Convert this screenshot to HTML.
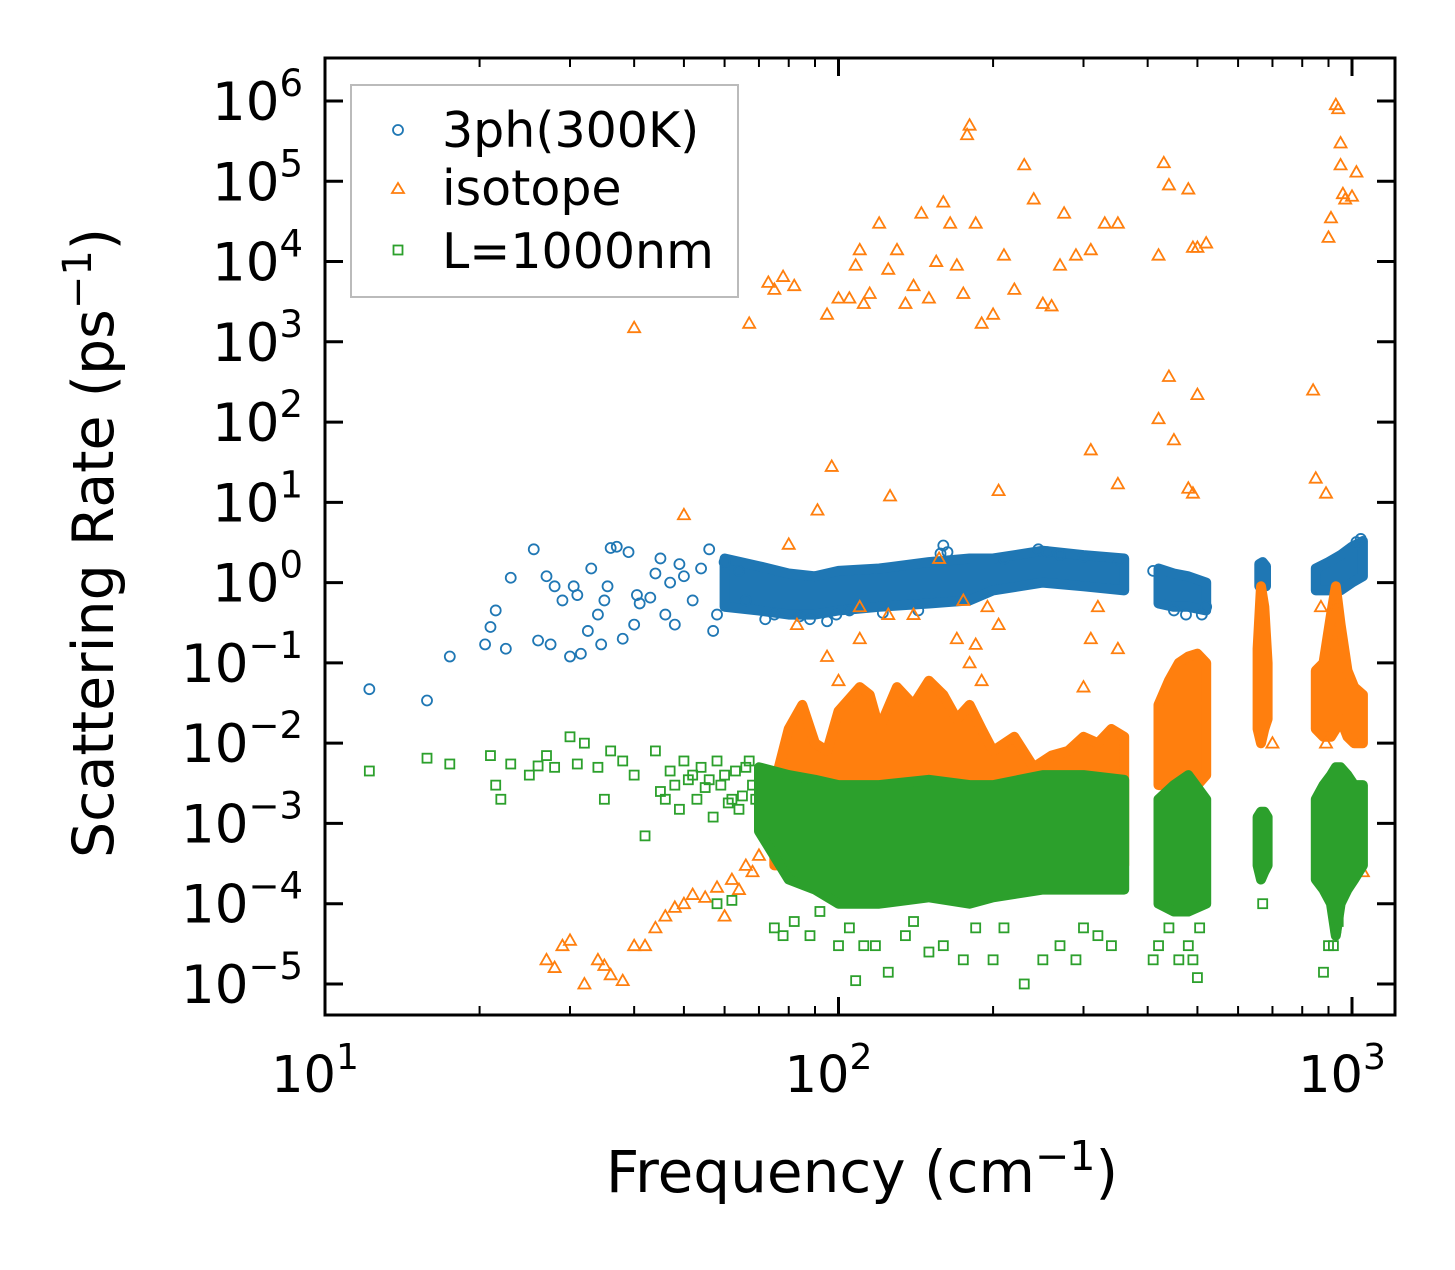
<!DOCTYPE html>
<html><head><meta charset="utf-8"><style>
html,body{margin:0;padding:0;background:#fff;}
svg text{font-family:"DejaVu Sans","Liberation Sans",sans-serif;fill:#000;}
</style></head><body>
<svg id="chart" width="1455" height="1265" viewBox="0 0 1455 1265" xmlns="http://www.w3.org/2000/svg">
<rect x="0" y="0" width="1455" height="1265" fill="#fff"/>
<g id="plot"></g>
<g id="axes"></g>
<text x="862" y="1192" font-size="58" text-anchor="middle">Frequency (cm<tspan dy="-22" font-size="41">−1</tspan><tspan dy="22">)</tspan></text>
<text transform="translate(113,543) rotate(-90)" font-size="57" text-anchor="middle">Scattering Rate (ps<tspan dy="-22" font-size="40">−1</tspan><tspan dy="22">)</tspan></text>
<g>
<rect x="351" y="85" width="387" height="212" fill="#fff" fill-opacity="0.8" stroke="#bbb" stroke-width="2"/>
<circle cx="398" cy="130" r="5" fill="none" stroke="#1f77b4" stroke-width="1.8"/>
<text x="442" y="147" font-size="49">3ph(300K)</text>
<path d="M398,183 L404,193 L392,193 Z" fill="none" stroke="#ff7f0e" stroke-width="1.8"/>
<text x="442" y="205" font-size="49">isotope</text>
<rect x="393.5" y="245.5" width="9" height="9" fill="none" stroke="#2ca02c" stroke-width="1.8"/>
<text x="442" y="268" font-size="49">L=1000nm</text>
</g>
</svg>
<script>
// axis ticks
const xTickValues = [10, 100, 1000];
const xTickLabels = ["1", "2", "3"];
const yTickValues = [1e6,1e5,1e4,1e3,1e2,1e1,1e0,1e-1,1e-2,1e-3,1e-4,1e-5];
const yTickLabels = ["6","5","4","3","2","1","0","−1","−2","−3","−4","−5"];

// dense band envelopes (frequency, lower rate, upper rate)
const bandThreephFreq = [60,70,80,90,100,120,150,180,200,250,300,360];
const bandThreephLow  = [0.5,0.45,0.4,0.4,0.45,0.5,0.55,0.6,0.8,1.0,0.9,0.8];
const bandThreephHigh = [2,1.6,1.3,1.2,1.4,1.5,1.8,2.0,2.0,2.5,2.2,2.0];
const bandThreeph2Freq = [420,450,480,520];
const bandThreeph2Low  = [0.55,0.5,0.5,0.45];
const bandThreeph2High = [1.5,1.3,1.2,1.0];
const bandThreeph3Freq = [660,670,680];
const bandThreeph3Low  = [0.9,0.9,0.9];
const bandThreeph3High = [1.7,1.8,1.6];
const bandThreeph4Freq = [850,900,950,1000,1050];
const bandThreeph4Low  = [0.8,0.8,0.8,1.0,1.2];
const bandThreeph4High = [1.5,1.8,2.2,2.8,3.3];

const bandIsoFreq = [75,80,85,90,95,100,110,115,120,130,140,150,160,170,180,190,200,220,240,260,280,300,320,340,360];
const bandIsoLow  = [3e-4,3e-4,3e-4,3e-4,3e-4,3e-4,3e-4,3e-4,3e-4,3e-4,3e-4,3e-4,3e-4,3e-4,3e-4,3e-4,3e-4,3e-4,3e-4,3e-4,3e-4,3e-4,3e-4,3e-4,3e-4];
const bandIsoHigh = [0.003,0.015,0.03,0.01,0.008,0.025,0.05,0.04,0.015,0.05,0.03,0.06,0.04,0.02,0.03,0.015,0.008,0.012,0.005,0.007,0.008,0.012,0.01,0.015,0.012];
const bandIso2Freq = [420,440,460,480,500,520];
const bandIso2Low  = [0.003,0.003,0.003,0.003,0.003,0.004];
const bandIso2High = [0.03,0.06,0.1,0.12,0.13,0.1];
const bandIso3Freq = [655,665,675,685];
const bandIso3Low  = [0.015,0.01,0.015,0.02];
const bandIso3High = [0.15,0.9,0.5,0.1];
const bandIso4Freq = [850,880,910,930,950,980,1010,1050];
const bandIso4Low  = [0.015,0.012,0.012,0.015,0.02,0.012,0.01,0.01];
const bandIso4High = [0.08,0.1,0.4,0.9,0.3,0.08,0.05,0.04];

const bandBdFreq = [70,80,90,100,120,150,180,200,250,300,360];
const bandBdLow  = [8e-4,2e-4,1.5e-4,1e-4,1e-4,1.2e-4,1e-4,1.2e-4,1.5e-4,1.5e-4,1.5e-4];
const bandBdHigh = [5e-3,4e-3,3.5e-3,3e-3,3e-3,3.5e-3,3e-3,3e-3,4e-3,4e-3,3.5e-3];
const bandBd2Freq = [420,450,480,520];
const bandBd2Low  = [1e-4,8e-5,8e-5,1e-4];
const bandBd2High = [2e-3,3e-3,4e-3,2e-3];
const bandBd3Freq = [655,665,675,685];
const bandBd3Low  = [3e-4,2e-4,2.5e-4,3e-4];
const bandBd3High = [1.2e-3,1.4e-3,1.4e-3,1.2e-3];
const bandBd4Freq = [850,880,910,930,950,980,1010,1050];
const bandBd4Low  = [2e-4,1.5e-4,1e-4,4e-5,1e-4,1.5e-4,2e-4,3e-4];
const bandBd4High = [2e-3,3e-3,4e-3,5e-3,5e-3,4e-3,3e-3,3e-3];

// scattered points
const threephFreq = [12.2,15.8,17.5,20.5,21,21.5,22.5,23,25.5,26,27,27.5,28,29,30,30.5,31,31.5,32.5,33,34,34.5,35,35.5,36,37,38,39,40,40.5,41,43,44,45,46,47,48,49,50,52,54,56,57,58,60,64,66,72,75,84,88,95,99,105,122,143,158,160,163,210,245,255,270,300,350,410,450,475,510,520,1020,1040];
const threephRate = [0.047,0.034,0.12,0.17,0.28,0.45,0.15,1.15,2.6,0.19,1.2,0.17,0.9,0.6,0.12,0.9,0.7,0.13,0.25,1.5,0.4,0.17,0.6,0.9,2.7,2.8,0.2,2.4,0.3,0.7,0.55,0.65,1.3,2.0,0.4,1.0,0.3,1.7,1.2,0.6,1.5,2.6,0.25,0.4,1.8,1.4,0.6,0.35,0.4,0.38,0.35,0.33,0.4,0.45,0.42,0.45,2.3,2.9,2.4,2.0,2.6,2.4,2.2,2.1,1.9,1.4,0.45,0.4,0.4,0.5,3.2,3.5];

const isoFreq = [40,67,73,75,78,82,95,100,105,108,110,112,115,120,125,130,135,140,145,150,155,160,165,170,175,178,180,185,190,200,210,220,230,240,250,260,270,275,290,310,330,350,420,430,440,480,490,500,520,900,910,930,940,950,960,970,1000,1020,950,
97,80,91,126,157,205,310,350,420,440,450,480,490,500,840,850,890,50,
83,95,100,110,125,170,180,185,190,195,205,300,310,320,350,110,140,175,870,930,700,890,
27,28,29,30,32,34,35,36,38,40,42,44,46,48,50,52,55,58,62,66,70,75,60,64,68,1050];
const isoRate = [1500,1700,5500,4500,6500,5000,2200,3500,3500,9000,14000,3000,4000,30000,8000,14000,3000,5000,40000,3500,10000,55000,30000,9000,4000,380000,500000,30000,1700,2200,12000,4500,160000,60000,3000,2800,9000,40000,12000,14000,30000,30000,12000,170000,90000,80000,15000,15000,17000,20000,35000,900000,800000,160000,70000,60000,65000,130000,300000,
28,3,8,12,2,14,45,17,110,370,60,15,13,220,250,20,13,7,
0.3,0.12,0.06,0.2,0.4,0.2,0.1,0.17,0.06,0.5,0.3,0.05,0.2,0.5,0.15,0.5,0.4,0.6,0.5,0.5,0.01,0.01,
2e-5,1.6e-5,3e-5,3.5e-5,1e-5,2e-5,1.7e-5,1.3e-5,1.1e-5,3e-5,3e-5,5e-5,7e-5,9e-5,1e-4,1.3e-4,1.2e-4,1.6e-4,2e-4,3e-4,4e-4,6e-4,7e-5,1.5e-4,2.5e-4,2.5e-4];

const bdFreq = [12.2,15.8,17.5,21,21.5,22,23,25,26,27,28,30,31,32,34,35,36,38,40,42,44,46,48,50,52,54,56,58,60,62,64,66,68,45,47,49,51,53,55,57,59,61,63,65,67,69,
58,62,75,78,82,88,92,100,105,108,112,118,125,135,140,150,160,175,185,200,210,230,250,270,290,300,320,340,
410,420,440,460,480,490,500,505,670,880,900,920,930,940];
const bdRate = [0.0045,0.0065,0.0055,0.007,0.003,0.002,0.0055,0.004,0.0052,0.007,0.005,0.012,0.0055,0.01,0.005,0.002,0.008,0.006,0.004,0.0007,0.008,0.002,0.003,0.006,0.004,0.005,0.0035,0.006,0.004,0.002,0.0015,0.005,0.003,0.0025,0.0045,0.0015,0.0035,0.002,0.0028,0.0012,0.003,0.0018,0.0045,0.0022,0.006,0.002,
1e-4,1.1e-4,5e-5,4e-5,6e-5,4e-5,8e-5,3e-5,5e-5,1.1e-5,3e-5,3e-5,1.4e-5,4e-5,6e-5,2.5e-5,3e-5,2e-5,5e-5,2e-5,5e-5,1e-5,2e-5,3e-5,2e-5,5e-5,4e-5,3e-5,
2e-5,3e-5,5e-5,2e-5,3e-5,2e-5,1.2e-5,5e-5,1e-4,1.4e-5,3e-5,3e-5,5e-5,6e-5];

const NS = "http://www.w3.org/2000/svg";
const X0 = 325, XDEC = 513.5, Y0 = 101, YDEC = 80.27;
const PL = 325, PR = 1395, PT = 58, PB = 1015;
function xs(f){ return X0 + XDEC*(Math.log10(f) - 1); }
function ys(v){ return Y0 + YDEC*(6 - Math.log10(v)); }
const plot = document.getElementById('plot');
const axes = document.getElementById('axes');

const clip = document.createElementNS(NS,'clipPath'); clip.setAttribute('id','clip');
const cr = document.createElementNS(NS,'rect');
cr.setAttribute('x',PL); cr.setAttribute('y',PT); cr.setAttribute('width',PR-PL); cr.setAttribute('height',PB-PT);
clip.appendChild(cr); document.getElementById('chart').prepend(clip);
plot.setAttribute('clip-path','url(#clip)');

function band(fr, lo, hi, color, name){
  let pts = [];
  for (let i=0;i<fr.length;i++) pts.push(xs(fr[i]).toFixed(1)+','+ys(hi[i]).toFixed(1));
  for (let i=fr.length-1;i>=0;i--) pts.push(xs(fr[i]).toFixed(1)+','+ys(lo[i]).toFixed(1));
  const p = document.createElementNS(NS,'polygon');
  p.setAttribute('points', pts.join(' '));
  p.setAttribute('fill', color); p.setAttribute('stroke', color); p.setAttribute('stroke-width','10'); p.setAttribute('stroke-linejoin','round');
  
  
  plot.appendChild(p);
}
function marker(kind, f, v, color){
  const x = xs(f), y = ys(v); let el;
  if (kind==='c'){ el = document.createElementNS(NS,'circle'); el.setAttribute('cx',x); el.setAttribute('cy',y); el.setAttribute('r',5); }
  else if (kind==='t'){ el = document.createElementNS(NS,'path'); el.setAttribute('d',`M${x},${y-6} L${x+6},${y+4.5} L${x-6},${y+4.5} Z`); }
  else { el = document.createElementNS(NS,'rect'); el.setAttribute('x',x-4.5); el.setAttribute('y',y-4.5); el.setAttribute('width',9); el.setAttribute('height',9); }
  el.setAttribute('fill','none'); el.setAttribute('stroke',color); el.setAttribute('stroke-width','1.8');
  
  
  plot.appendChild(el);
}
const B='#1f77b4', O='#ff7f0e', G='#2ca02c';
band(bandThreephFreq,bandThreephLow,bandThreephHigh,B,'band-3ph-a');
band(bandThreeph2Freq,bandThreeph2Low,bandThreeph2High,B,'band-3ph-b');
band(bandThreeph3Freq,bandThreeph3Low,bandThreeph3High,B,'band-3ph-c');
band(bandThreeph4Freq,bandThreeph4Low,bandThreeph4High,B,'band-3ph-d');
for (let i=0;i<threephFreq.length;i++) marker('c',threephFreq[i],threephRate[i],B);
band(bandIsoFreq,bandIsoLow,bandIsoHigh,O,'band-isotope-a');
band(bandIso2Freq,bandIso2Low,bandIso2High,O,'band-isotope-b');
band(bandIso3Freq,bandIso3Low,bandIso3High,O,'band-isotope-c');
band(bandIso4Freq,bandIso4Low,bandIso4High,O,'band-isotope-d');
for (let i=0;i<isoFreq.length;i++) marker('t',isoFreq[i],isoRate[i],O);
band(bandBdFreq,bandBdLow,bandBdHigh,G,'band-boundary-a');
band(bandBd2Freq,bandBd2Low,bandBd2High,G,'band-boundary-b');
band(bandBd3Freq,bandBd3Low,bandBd3High,G,'band-boundary-c');
band(bandBd4Freq,bandBd4Low,bandBd4High,G,'band-boundary-d');
for (let i=0;i<bdFreq.length;i++) marker('s',bdFreq[i],bdRate[i],G);

function line(x1,y1,x2,y2,w,name){
  const l = document.createElementNS(NS,'line');
  l.setAttribute('x1',x1); l.setAttribute('y1',y1); l.setAttribute('x2',x2); l.setAttribute('y2',y2);
  l.setAttribute('stroke','#000'); l.setAttribute('stroke-width',w);
  
  
  axes.appendChild(l);
}
const frame = document.createElementNS(NS,'rect');
frame.setAttribute('x',PL); frame.setAttribute('y',PT); frame.setAttribute('width',PR-PL); frame.setAttribute('height',PB-PT);
frame.setAttribute('fill','none'); frame.setAttribute('stroke','#000'); frame.setAttribute('stroke-width','3');


axes.appendChild(frame);

xTickValues.forEach((v,i)=>{
  const x = xs(v);
  line(x,PB,x,PB-18,3,'x-major-tick'); line(x,PT,x,PT+18,3,'x-major-tick-top');
  const t = document.createElementNS(NS,'text');
  t.setAttribute('x',x-10); t.setAttribute('y',1092); t.setAttribute('font-size','51'); t.setAttribute('text-anchor','middle');
  t.innerHTML = '10<tspan dy="-23" font-size="36">'+xTickLabels[i]+'</tspan>';
  
  
  axes.appendChild(t);
});
[10,100,1000].forEach(d=>{ for(let k=2;k<=9;k++){ const f=d*k; const x=xs(f); if(x<PR){ line(x,PB,x,PB-9,2,'x-minor-tick'); line(x,PT,x,PT+9,2,'x-minor-tick-top'); } } });
yTickValues.forEach((v,i)=>{
  const y = ys(v);
  line(PL,y,PL+18,y,3,'y-major-tick'); line(PR,y,PR-18,y,3,'y-major-tick-right');
  const t = document.createElementNS(NS,'text');
  t.setAttribute('x',303); t.setAttribute('y',y+19); t.setAttribute('font-size','53'); t.setAttribute('text-anchor','end');
  t.innerHTML = '10<tspan dy="-24" font-size="37">'+yTickLabels[i]+'</tspan>';
  
  
  axes.appendChild(t);
});
</script>
</body></html>
